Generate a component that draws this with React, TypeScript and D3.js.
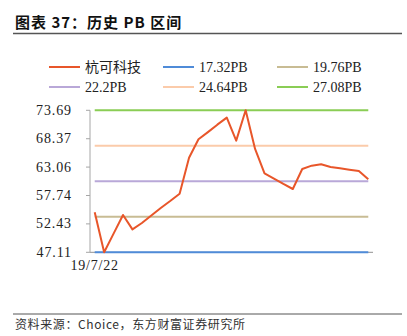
import React from "react";
import * as d3 from "d3";

const dates = [
  "19/7/22","d1","d2","d3","d4","d5","d6","d7","d8","d9",
  "d10","d11","d12","d13","d14","d15","d16","d17","d18","d19",
  "d20","d21","d22","d23","d24","d25","d26","d27","d28","d29",
];
const prices = [
  54.59, 47.11, 50.6, 54.09, 51.41, 52.6, 54.0, 55.4, 56.7, 58.08,
  64.82, 68.26, 69.6, 71.0, 72.31, 68.01, 73.69, 66.45, 61.89, 60.9,
  59.9, 58.96, 62.7, 63.33, 63.58, 63.08, 62.83, 62.58, 62.33, 60.77,
];
const bandNames = ["17.32PB", "19.76PB", "22.2PB", "24.64PB", "27.08PB"];
const bandValues = [47.11, 53.755, 60.4, 67.045, 73.69];
const bandColors = ["#4F8BD8", "#C8BC94", "#B9A8D8", "#FBCBAA", "#8ACD55"];
const seriesName = "杭可科技";
const seriesColor = "#E8562A";
const yTicks = [47.11, 52.43, 57.74, 63.06, 68.37, 73.69];
const xLabels = ["19/7/22"];

const W = 407, H = 336;
const numFont = "'Liberation Serif', 'Times New Roman', serif";
const cjkFont = "'Noto Sans CJK SC', sans-serif";

export default function App() {
  const x = d3.scalePoint<string>().domain(dates).range([90, 373]).padding(0.5);
  const y = d3.scaleLinear().domain([47.11, 73.69]).range([252.3, 110.3]);
  const line = d3.line<number>().x((_, i) => x(dates[i])!).y((d) => y(d));
  const x0 = x(dates[0])!;
  const x1 = x(dates[dates.length - 1])!;

  const legendItems = [
    { name: seriesName, color: seriesColor },
    ...bandNames.map((n, i) => ({ name: n, color: bandColors[i] })),
  ];
  const colX = [49, 163, 277];
  const rowY = [67, 87];

  return (
    <svg width={W} height={H} style={{ position: "absolute", left: 0, top: 0 }}>
      <rect width={W} height={H} fill="#fff" />
      <text x={15} y={28} fontFamily={cjkFont} fontWeight={700} fontSize={15} letterSpacing={1} fill="#111">
        图表 37：历史 PB 区间
      </text>
      <line x1={13} x2={402} y1={33.5} y2={33.5} stroke="#555" strokeWidth={1.5} />

      {legendItems.map((it, i) => {
        const cx = colX[i % 3];
        const cy = rowY[Math.floor(i / 3)];
        return (
          <g key={it.name}>
            <line x1={cx} x2={cx + 31} y1={cy} y2={cy} stroke={it.color} strokeWidth={2} />
            <text x={cx + 36} y={cy + 5} fontFamily={i === 0 ? cjkFont : numFont} fontSize={14} fill="#222">
              {it.name}
            </text>
          </g>
        );
      })}

      {/* axes */}
      <line x1={90} x2={90} y1={110.3} y2={252.3} stroke="#A6A6A6" strokeWidth={1} />
      <line x1={90} x2={373} y1={252.3} y2={252.3} stroke="#A6A6A6" strokeWidth={1.2} />
      {yTicks.map((t) => (
        <g key={t}>
          <line x1={86} x2={90} y1={y(t)} y2={y(t)} stroke="#A6A6A6" />
          <text x={72} y={y(t) + 4.5} textAnchor="end" fontFamily={numFont} fontSize={14} letterSpacing={0.9} fill="#222">
            {t.toFixed(2)}
          </text>
        </g>
      ))}
      {xLabels.map((l) => (
        <text key={l} x={x(l)!} y={270} textAnchor="middle" fontFamily={numFont} fontSize={14} letterSpacing={0.8} fill="#222">
          {l}
        </text>
      ))}

      {bandValues.map((v, i) => (
        <line key={i} x1={x0} x2={x1} y1={y(v)} y2={y(v)} stroke={bandColors[i]} strokeWidth={2} />
      ))}
      <path d={line(prices)!} fill="none" stroke={seriesColor} strokeWidth={2} strokeLinejoin="round" />

      <line x1={13} x2={402} y1={314} y2={314} stroke="#555" strokeWidth={1} />
      <text x={15} y={329} fontFamily={cjkFont} fontSize={12} letterSpacing={0.6} fill="#333">
        资料来源：Choice，东方财富证券研究所
      </text>
    </svg>
  );
}
